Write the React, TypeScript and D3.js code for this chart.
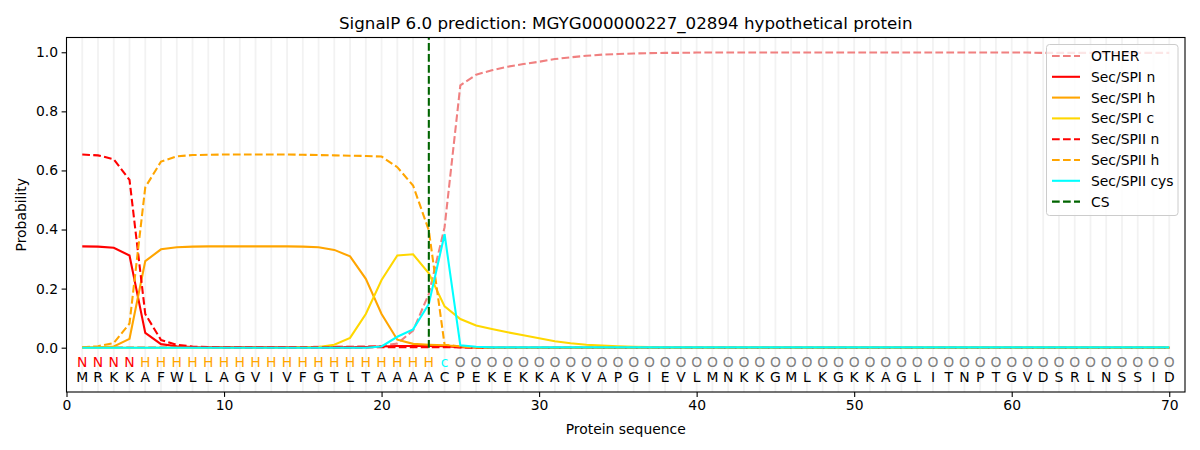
// @ts-nocheck
import React, { useEffect, useRef } from "react";
import * as d3 from "d3";

const sequence = "MRKKAFWLLAGVIVFGTLTAAAACPEKEKKAKVAPGIEVLMNKKGMLKGKKAGLITNPTGVDSRLNSSID".split("");
const labels = "NNNNHHHHHHHHHHHHHHHHHHHcOOOOOOOOOOOOOOOOOOOOOOOOOOOOOOOOOOOOOOOOOOOOOO".split("");

const other = [
  0.001, 0.001, 0.001, 0.001, 0.001, 0.001, 0.001, 0.001, 0.002, 0.002,
  0.002, 0.002, 0.002, 0.002, 0.002, 0.003, 0.004, 0.004, 0.005, 0.006,
  0.014, 0.058, 0.182, 0.408, 0.888, 0.924, 0.939, 0.951, 0.96, 0.968,
  0.977, 0.983, 0.988, 0.992, 0.994, 0.996, 0.997, 0.998, 0.998, 0.999,
  0.999, 0.999, 0.999, 0.999, 0.999, 0.999, 0.999, 0.999, 0.999, 0.999,
  0.999, 0.999, 0.999, 0.999, 0.999, 0.999, 0.999, 0.999, 0.999, 0.999,
  0.999, 0.998, 0.998, 0.998, 0.998, 0.998, 0.998, 0.998, 0.998, 0.998,
];
const spiN = [
  0.343, 0.342, 0.338, 0.312, 0.05, 0.012, 0.005, 0.002, 0.001, 0.001,
  0.001, 0.001, 0.001, 0.001, 0.001, 0.001, 0.001, 0.001, 0.002, 0.004,
  0.006, 0.006, 0.006, 0.005, 0.002, 0.001, 0, 0, 0, 0,
  0, 0, 0, 0, 0, 0, 0, 0, 0, 0,
  0, 0, 0, 0, 0, 0, 0, 0, 0, 0,
  0, 0, 0, 0, 0, 0, 0, 0, 0, 0,
  0, 0, 0, 0, 0, 0, 0, 0, 0, 0,
];
const spiH = [
  0.001, 0.001, 0.004, 0.03, 0.293, 0.333, 0.34, 0.342, 0.343, 0.343,
  0.343, 0.343, 0.343, 0.343, 0.342, 0.34, 0.331, 0.309, 0.233, 0.114,
  0.027, 0.013, 0.01, 0.008, 0.004, 0.001, 0, 0, 0, 0,
  0, 0, 0, 0, 0, 0, 0, 0, 0, 0,
  0, 0, 0, 0, 0, 0, 0, 0, 0, 0,
  0, 0, 0, 0, 0, 0, 0, 0, 0, 0,
  0, 0, 0, 0, 0, 0, 0, 0, 0, 0,
];
const spiC = [
  0, 0, 0, 0, 0, 0, 0, 0, 0, 0,
  0, 0, 0, 0, 0.001, 0.002, 0.01, 0.033, 0.114, 0.229,
  0.312, 0.316, 0.252, 0.14, 0.097, 0.075, 0.063, 0.052, 0.042, 0.032,
  0.022, 0.015, 0.01, 0.007, 0.005, 0.003, 0.002, 0.001, 0.001, 0.001,
  0.001, 0.001, 0.001, 0.001, 0.001, 0.001, 0.001, 0.001, 0.001, 0.001,
  0.001, 0.001, 0.001, 0.001, 0.001, 0.001, 0.001, 0.001, 0.001, 0.001,
  0.001, 0.001, 0.001, 0.001, 0.001, 0.001, 0.001, 0.001, 0.001, 0.001,
];
const spiiN = [
  0.654, 0.651, 0.638, 0.568, 0.114, 0.026, 0.01, 0.004, 0.002, 0.001,
  0.001, 0.001, 0.001, 0.001, 0.001, 0.001, 0.001, 0.001, 0.001, 0.002,
  0.002, 0.002, 0.002, 0.002, 0.001, 0, 0, 0, 0, 0,
  0, 0, 0, 0, 0, 0, 0, 0, 0, 0,
  0, 0, 0, 0, 0, 0, 0, 0, 0, 0,
  0, 0, 0, 0, 0, 0, 0, 0, 0, 0,
  0, 0, 0, 0, 0, 0, 0, 0, 0, 0,
];
const spiiH = [
  0.001, 0.005, 0.016, 0.082, 0.543, 0.63, 0.648, 0.652, 0.653, 0.654,
  0.654, 0.654, 0.654, 0.654, 0.653, 0.652, 0.651, 0.65, 0.649, 0.647,
  0.611, 0.549, 0.397, 0.01, 0.004, 0.001, 0, 0, 0, 0,
  0, 0, 0, 0, 0, 0, 0, 0, 0, 0,
  0, 0, 0, 0, 0, 0, 0, 0, 0, 0,
  0, 0, 0, 0, 0, 0, 0, 0, 0, 0,
  0, 0, 0, 0, 0, 0, 0, 0, 0, 0,
];
const spiiCys = [
  0, 0, 0, 0, 0, 0, 0, 0, 0, 0,
  0, 0, 0, 0, 0, 0, 0, 0, 0, 0.004,
  0.037, 0.062, 0.148, 0.384, 0.008, 0.003, 0.001, 0.001, 0.001, 0.001,
  0.001, 0.001, 0.001, 0.001, 0.001, 0.001, 0.001, 0.001, 0.001, 0.001,
  0.001, 0.001, 0.001, 0.001, 0.001, 0.001, 0.001, 0.001, 0.001, 0.001,
  0.001, 0.001, 0.001, 0.001, 0.001, 0.001, 0.001, 0.001, 0.001, 0.001,
  0.001, 0.001, 0.001, 0.001, 0.001, 0.001, 0.001, 0.001, 0.001, 0.001,
];
const cleavageSite = 23;

const series = [
  { name: "OTHER", values: other, color: "#f08080", dashed: true },
  { name: "Sec/SPI n", values: spiN, color: "#ff0000", dashed: false },
  { name: "Sec/SPI h", values: spiH, color: "#ffa500", dashed: false },
  { name: "Sec/SPI c", values: spiC, color: "#ffd700", dashed: false },
  { name: "Sec/SPII n", values: spiiN, color: "#ff0000", dashed: true },
  { name: "Sec/SPII h", values: spiiH, color: "#ffa500", dashed: true },
  { name: "Sec/SPII cys", values: spiiCys, color: "#00ffff", dashed: false },
];

const labelColor = { N: "#ff0000", H: "#ffa500", c: "#00ffff", O: "#808080" };

function App() {
  const ref = useRef(null);

  useEffect(() => {
    document.body.style.margin = "0";
    const svg = d3.select(ref.current);
    svg.selectAll("*").remove();

    const left = 66.5, right = 1185, top = 37.5, bottom = 392;
    const font = "DejaVu Sans, sans-serif";
    const lw = 2.08; // 1.5pt at 100 dpi
    const dash = "7.7,3.3";

    const x = d3.scaleLinear().domain([0, 71]).range([left, right]);
    const y = d3.scaleLinear().domain([-0.15, 1.05]).range([bottom, top]);

    svg.append("rect").attr("width", 1200).attr("height", 450).attr("fill", "#fff");

    // light vertical guides at every residue
    svg
      .append("g")
      .selectAll("line")
      .data(d3.range(1, sequence.length + 1))
      .enter()
      .append("line")
      .attr("x1", (d) => x(d))
      .attr("x2", (d) => x(d))
      .attr("y1", top)
      .attr("y2", bottom)
      .attr("stroke", "#f2f2f2")
      .attr("stroke-width", 1.8);

    const line = d3
      .line()
      .x((d, i) => x(i + 1))
      .y((d) => y(d));

    const g = svg.append("g");
    series.forEach((s) => {
      g.append("path")
        .attr("d", line(s.values))
        .attr("fill", "none")
        .attr("stroke", s.color)
        .attr("stroke-width", lw)
        .attr("stroke-dasharray", s.dashed ? dash : null);
    });

    // cleavage site, from 0 up to the top of the axes
    g.append("line")
      .attr("x1", x(cleavageSite))
      .attr("x2", x(cleavageSite))
      .attr("y1", y(0))
      .attr("y2", top)
      .attr("stroke", "#006400")
      .attr("stroke-width", lw)
      .attr("stroke-dasharray", dash);

    // residue labels and sequence
    const txt = svg.append("g").attr("font-family", font).attr("font-size", 13.9).attr("text-anchor", "middle");
    txt
      .selectAll(".lab")
      .data(labels)
      .enter()
      .append("text")
      .attr("x", (d, i) => x(i + 1))
      .attr("y", 367)
      .attr("fill", (d) => labelColor[d])
      .text((d) => d);
    txt
      .selectAll(".seq")
      .data(sequence)
      .enter()
      .append("text")
      .attr("x", (d, i) => x(i + 1))
      .attr("y", 382)
      .attr("fill", "#000")
      .text((d) => d);

    // frame
    svg
      .append("rect")
      .attr("x", left)
      .attr("y", top)
      .attr("width", right - left)
      .attr("height", bottom - top)
      .attr("fill", "none")
      .attr("stroke", "#000")
      .attr("stroke-width", 1.1);

    const xAxis = svg
      .append("g")
      .attr("transform", `translate(0,${bottom})`)
      .call(d3.axisBottom(x).tickValues(d3.range(0, 71, 10)).tickSize(4.9).tickPadding(3.5).tickFormat(d3.format("d")));
    const yAxis = svg
      .append("g")
      .attr("transform", `translate(${left},0)`)
      .call(d3.axisLeft(y).tickValues(d3.range(0, 1.01, 0.2)).tickSize(4.9).tickPadding(3.5).tickFormat(d3.format(".1f")));
    [xAxis, yAxis].forEach((a) => {
      a.select(".domain").remove();
      a.selectAll("text").attr("font-family", font).attr("font-size", 13.9).attr("fill", "#000");
      a.selectAll("line").attr("stroke", "#000").attr("stroke-width", 1.1);
    });

    svg
      .append("text")
      .attr("x", (left + right) / 2)
      .attr("y", 434)
      .attr("text-anchor", "middle")
      .attr("font-family", font)
      .attr("font-size", 13.9)
      .text("Protein sequence");
    svg
      .append("text")
      .attr("transform", `translate(26,${(top + bottom) / 2}) rotate(-90)`)
      .attr("text-anchor", "middle")
      .attr("font-family", font)
      .attr("font-size", 13.9)
      .text("Probability");
    svg
      .append("text")
      .attr("x", (left + right) / 2)
      .attr("y", 29)
      .attr("text-anchor", "middle")
      .attr("font-family", font)
      .attr("font-size", 16.7)
      .text("SignalP 6.0 prediction: MGYG000000227_02894 hypothetical protein");

    // legend
    const legendItems = [
      ...series.map((s) => ({ name: s.name, color: s.color, dashed: s.dashed })),
      { name: "CS", color: "#006400", dashed: true },
    ];
    const lg = svg.append("g").attr("transform", "translate(1046.5,44.5)");
    lg.append("rect")
      .attr("width", 131.5)
      .attr("height", 171)
      .attr("rx", 3)
      .attr("fill", "#fff")
      .attr("fill-opacity", 0.8)
      .attr("stroke", "#cccccc");
    legendItems.forEach((it, i) => {
      const cy = 11.5 + i * 20.8;
      lg.append("line")
        .attr("x1", 5.5)
        .attr("x2", 33.5)
        .attr("y1", cy)
        .attr("y2", cy)
        .attr("stroke", it.color)
        .attr("stroke-width", lw)
        .attr("stroke-dasharray", it.dashed ? dash : null);
      lg.append("text")
        .attr("x", 44.5)
        .attr("y", cy + 5)
        .attr("font-family", font)
        .attr("font-size", 13.9)
        .text(it.name);
    });
  }, []);

  return <svg ref={ref} width={1200} height={450} style={{ display: "block" }} />;
}

export default App;
